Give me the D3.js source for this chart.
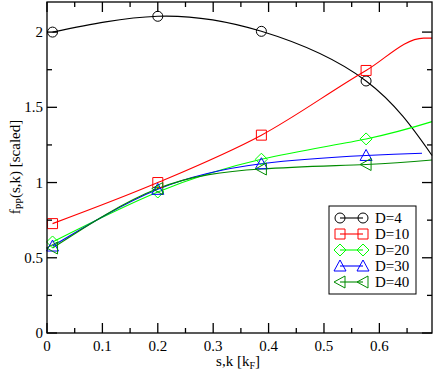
<!DOCTYPE html>
<html>
<head>
<meta charset="utf-8">
<script src="https://cdn.jsdelivr.net/npm/d3@7"></script>
<style>
body { margin: 0; background: #fff; }
</style>
</head>
<body>
<svg id="chart" width="436" height="374"></svg>
<script>
// data
var xVals = [0.01, 0.2, 0.387, 0.576];
var d4  = [2.0, 2.105, 2.005, 1.675];
var d10 = [0.727, 1.0, 1.315, 1.745];
var d20 = [0.605, 0.937, 1.155, 1.29];
var d30 = [0.578, 0.955, 1.125, 1.18];
var d40 = [0.565, 0.96, 1.09, 1.12];
// where each curve runs on past the last symbol
var tail4  = [[0.695, 1.18]];
var tail10 = [[0.68, 1.96], [0.695, 1.96]];
var tail20 = [[0.695, 1.405]];
var tail30 = [[0.677, 1.195]];
var tail40 = [[0.695, 1.15]];
var names = ["D=4", "D=10", "D=20", "D=30", "D=40"];
var colors = ["#000000", "#ff0000", "#00ff00", "#0000ff", "#008b00"];
var symbols = ["circle", "square", "diamond", "triangle", "left"];
var xTicks = [0, 0.1, 0.2, 0.3, 0.4, 0.5, 0.6];
var yTicks = [0, 0.5, 1, 1.5, 2];

var FONT = "'Liberation Serif'";
var svg = d3.select("#chart");
var x = d3.scaleLinear().domain([0, 0.695]).range([47, 432]);
var y = d3.scaleLinear().domain([0, 2.2]).range([333, 2]);

var series = [d4, d10, d20, d30, d40];
var tails = [tail4, tail10, tail20, tail30, tail40];

function symPath(kind, cx, cy){
    var p = d3.path();
    if(kind == "circle"){
        p.arc(cx, cy, 5, 0, 2*Math.PI);
    } else if(kind == "square"){
        p.rect(cx-5, cy-5, 10, 10);
    } else if(kind == "diamond"){
        p.moveTo(cx, cy-6); p.lineTo(cx+6, cy); p.lineTo(cx, cy+6); p.lineTo(cx-6, cy); p.closePath();
    } else if(kind == "triangle"){
        p.moveTo(cx, cy-6); p.lineTo(cx+6, cy+5); p.lineTo(cx-6, cy+5); p.closePath();
    } else {
        p.moveTo(cx-6, cy); p.lineTo(cx+5, cy-6); p.lineTo(cx+5, cy+6); p.closePath();
    }
    return p.toString();
}

// curves
series.forEach(function(vals, i){
    var pts = xVals.map(function(xv, j){ return [xv, vals[j]]; }).concat(tails[i]);
    var line = d3.line()
        .x(function(d){ return x(d[0]); })
        .y(function(d){ return y(d[1]); })
        .curve(i == 1 ? d3.curveMonotoneX : d3.curveNatural);
    svg.append("path")
        .attr("d", line(pts))
        .attr("fill", "none")
        .attr("stroke", colors[i])
        .attr("stroke-width", 1.1);
});

// symbols
series.forEach(function(vals, i){
    svg.append("g").selectAll("path")
        .data(vals)
        .enter().append("path")
        .attr("d", function(d, j){ return symPath(symbols[i], x(xVals[j]), y(d)); })
        .attr("fill", "none")
        .attr("stroke", colors[i])
        .attr("stroke-width", 1);
});

// frame & ticks (inward on all sides)
var ax = svg.append("g").attr("stroke", "#000").attr("stroke-width", 1.3);
ax.append("rect")
    .attr("x", x(0)).attr("y", y(2.2))
    .attr("width", x(0.695) - x(0)).attr("height", y(0) - y(2.2))
    .attr("fill", "none");

d3.range(0, 0.7, 0.05).forEach(function(t, k){
    var len = k % 2 == 0 ? 10 : 5;
    ax.append("line").attr("x1", x(t)).attr("x2", x(t)).attr("y1", y(0)).attr("y2", y(0) - len);
    ax.append("line").attr("x1", x(t)).attr("x2", x(t)).attr("y1", y(2.2)).attr("y2", y(2.2) + len);
});
d3.range(0, 2.21, 0.25).forEach(function(t, k){
    var len = k % 2 == 0 ? 10 : 5;
    ax.append("line").attr("y1", y(t)).attr("y2", y(t)).attr("x1", x(0)).attr("x2", x(0) + len);
    ax.append("line").attr("y1", y(t)).attr("y2", y(t)).attr("x1", x(0.695)).attr("x2", x(0.695) - len);
});

svg.append("g").selectAll("text")
    .data(xTicks).enter().append("text")
    .attr("x", function(d){ return x(d); })
    .attr("y", 351)
    .attr("text-anchor", "middle")
    .style("font-family", FONT)
    .style("font-size", "15px")
    .text(function(d){ return d; });

svg.append("g").selectAll("text")
    .data(yTicks).enter().append("text")
    .attr("x", 43)
    .attr("y", function(d){ return y(d) + 5; })
    .attr("text-anchor", "end")
    .style("font-family", FONT)
    .style("font-size", "15px")
    .text(function(d){ return d; });

// axis titles
var xt = svg.append("text")
    .attr("x", 238).attr("y", 366)
    .attr("text-anchor", "middle")
    .style("font-family", FONT)
    .style("font-size", "15px");
xt.append("tspan").text("s,k [k");
xt.append("tspan").style("font-size", "10px").attr("dy", 3).text("F");
xt.append("tspan").attr("dy", -3).text("]");

var yt = svg.append("text")
    .attr("transform", "translate(20,167) rotate(-90)")
    .attr("text-anchor", "middle")
    .style("font-family", FONT)
    .style("font-size", "15px");
yt.append("tspan").text("f");
yt.append("tspan").style("font-size", "10px").attr("dy", 3).text("PP");
yt.append("tspan").attr("dy", -3).text("(s,k) [scaled]");

// legend
var lg = svg.append("g");
lg.append("rect")
    .attr("x", 329).attr("y", 206).attr("width", 87).attr("height", 88)
    .attr("fill", "#fff").attr("stroke", "#000").attr("stroke-width", 1);
names.forEach(function(n, i){
    var ly = 218 + i * 16;
    lg.append("line").attr("x1", 340).attr("x2", 363).attr("y1", ly).attr("y2", ly)
        .attr("stroke", colors[i]).attr("stroke-width", 1.1);
    [340, 363].forEach(function(sx){
        lg.append("path").attr("d", symPath(symbols[i], sx, ly))
            .attr("fill", "none").attr("stroke", colors[i]).attr("stroke-width", 1);
    });
    lg.append("text").attr("x", 375).attr("y", ly + 5)
        .style("font-family", FONT)
        .style("font-size", "15px")
        .text(n);
});
</script>
</body>
</html>
